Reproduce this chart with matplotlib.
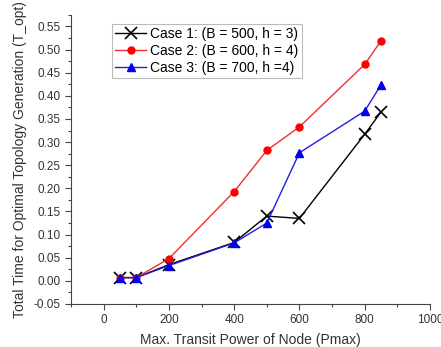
import matplotlib

matplotlib.use("Agg")
import matplotlib.pyplot as plt
from matplotlib.ticker import MultipleLocator

plt.rcParams["font.family"] = ["Liberation Sans", "DejaVu Sans"]

pmax = [50, 100, 200, 400, 500, 600, 800, 850]
case1 = [0.007, 0.007, 0.035, 0.083, 0.140, 0.135, 0.317, 0.365]
case2 = [0.007, 0.007, 0.048, 0.193, 0.282, 0.333, 0.468, 0.519]
case3 = [0.007, 0.007, 0.033, 0.082, 0.125, 0.277, 0.367, 0.424]

label1 = "Case 1: (B = 500, h = 3)"
label2 = "Case 2: (B = 600, h = 4)"
label3 = "Case 3: (B = 700, h =4)"

fig = plt.figure(figsize=(4.41, 3.47), dpi=100)
ax = fig.add_axes([0.161, 0.124, 0.814, 0.833])

ax.plot(pmax, case1, color="black", lw=1.0, marker="x", ms=8, mew=1.2, label=label1)
ax.plot(pmax, case2, color="#f03030", lw=1.0, marker="o", ms=5,
        mfc="red", mec="red", label=label2)
ax.plot(pmax, case3, color="#2020e0", lw=1.0, marker="^", ms=5.5,
        mfc="#0000ee", mec="#0000ee", label=label3)

ax.set_xlim(-100, 1000)
ax.set_ylim(-0.05, 0.575)
ax.xaxis.set_major_locator(MultipleLocator(200))
ax.xaxis.set_minor_locator(MultipleLocator(100))
ax.yaxis.set_major_locator(MultipleLocator(0.05))
ax.yaxis.set_minor_locator(MultipleLocator(0.025))
ax.yaxis.set_major_formatter(matplotlib.ticker.FormatStrFormatter("%.2f"))

for side in ["top", "right"]:
    ax.spines[side].set_visible(False)
for side in ["left", "bottom"]:
    ax.spines[side].set_color("#444444")
ax.tick_params(which="major", direction="out", length=4, width=0.8,
               colors="#444444", labelcolor="#333333", labelsize=8.5)
ax.tick_params(which="minor", direction="out", length=2.5, width=0.8,
               colors="#444444")

ax.set_xlabel("Max. Transit Power of Node (Pmax)", fontsize=10, color="#333333", labelpad=5)
ax.set_ylabel("Total Time for Optimal Topology Generation (T_opt)", fontsize=10,
              color="#333333", labelpad=5)

leg = ax.legend(loc="upper left", bbox_to_anchor=(0.114, 0.969), fontsize=10,
                frameon=True, fancybox=False, borderpad=0.25, labelspacing=0.2,
                handlelength=2.2, handletextpad=0.3, borderaxespad=0)
leg.get_frame().set_edgecolor("#aaaaaa")
leg.get_frame().set_linewidth(0.8)

fig.savefig("out.png", dpi=100)
